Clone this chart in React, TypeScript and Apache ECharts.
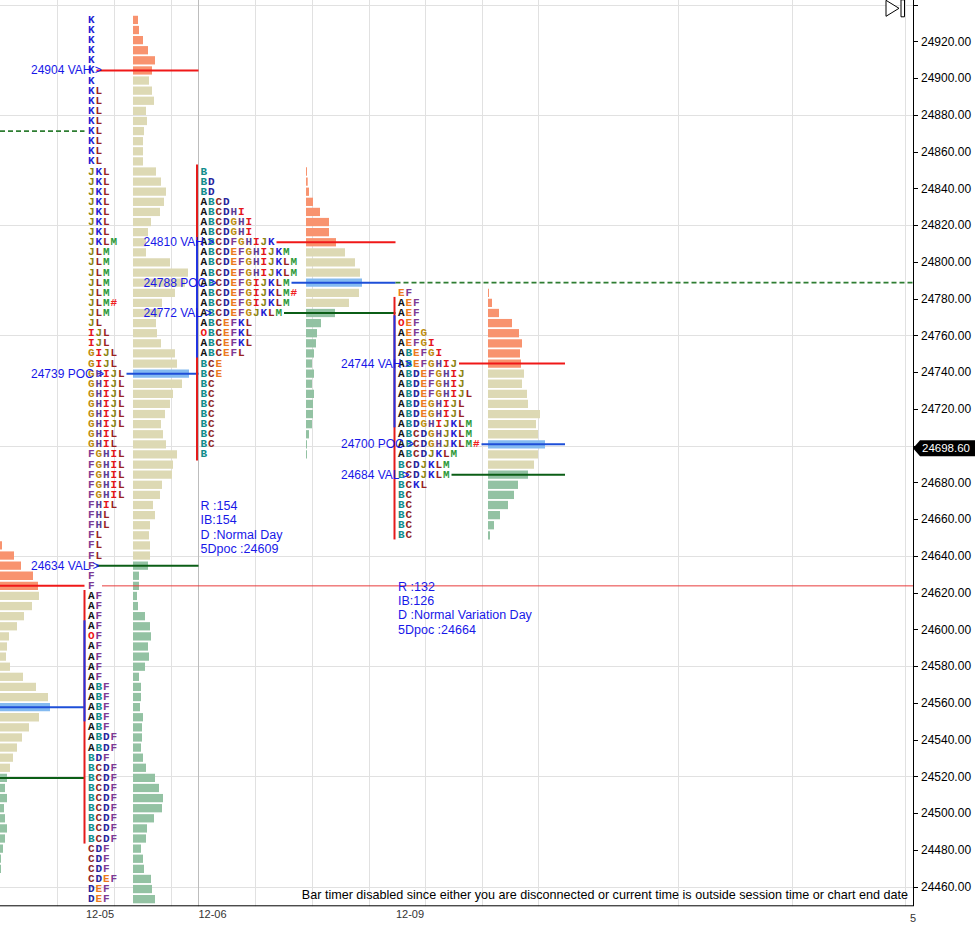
import React, { useEffect, useRef } from 'react';
import * as echarts from 'echarts';

// ================= DATA =================
const ROW = 5.5; // price height of one TPO row
const lastPrice = 24698.6;
const priceLabelMin = 24460;
const priceLabelMax = 24920;
const dateLabels = ['12-05', '12-06', '12-09'];
const cornerLabel = '5';
const footerText =
  'Bar timer disabled since either you are disconnected or current time is outside session time or chart end date';

// 12-04 (only its right edge is visible)
const d1204Top = 24645.75;
const d1204Vol = [2, 14, 21, 33, 38, 39, 32, 24, 17, 9, 7, 6, 10, 23, 36, 48, 50, 39, 29, 22, 17, 13, 10, 7, 5, 7, 4, 5, 7, 5, 3, 1, 1];
const d1204Vah = 24623.75;
const d1204Poc = 24557.75;
const d1204Val = 24519.25;
const olderNakedPoc = 24871.25;

// 12-05
const d1205Top = 24931.75;
const d1205Rows = [
  'K', 'K', 'K', 'K', 'K', 'K', 'K',
  'KL', 'KL', 'KL', 'KL', 'KL', 'KL', 'KL', 'KL',
  'JKL', 'JKL', 'JKL', 'JKL', 'JKL', 'JKL', 'JKL',
  'JKLM', 'JLM', 'JLM', 'JLM', 'JLM', 'JLM', 'JLM#', 'JLM', 'JL',
  'IJL', 'IJL', 'GIJL', 'GIJL',
  'GHIJL', 'GHIJL', 'GHIJL', 'GHIJL', 'GHIJL', 'GHIJL',
  'GHIL', 'GHIL',
  'FGHIL', 'FGHIL', 'FGHIL', 'FGHIL', 'FGHIL', 'FHIL', 'FHL', 'FHL',
  'FL', 'FL', 'FL', 'F', 'F', 'F',
  'AF', 'AF', 'AF', 'AF', 'OF', 'AF', 'AF', 'AF', 'AF',
  'ABF', 'ABF', 'ABF', 'ABF', 'ABF', 'ABDF', 'ABDF', 'BDF',
  'BCDF', 'BCDF', 'BCDF', 'BCDF', 'BCDF', 'BCDF', 'BCDF', 'BCDF',
  'CDF', 'CDF', 'CDF', 'CDEF', 'DEF', 'DEF',
];
const d1205Vol = [
  5, 6, 10, 15, 22, 19,
  16, 19, 21, 13, 14, 11, 10, 10, 10, 23, 28, 33, 31, 27, 18, 15, 13, 13, 37, 55, 52, 42, 29, 27, 23, 24, 28, 42, 44,
  56,
  49, 40, 37, 32, 28, 30, 33, 44, 40, 39, 29, 27, 20, 22, 17, 16, 17, 17,
  15, 6, 6, 4, 5, 12, 17, 18, 15, 16, 12, 6, 8, 8, 7, 10, 9, 9, 8, 10, 13, 22, 26, 30, 29, 21, 14, 13, 8, 10, 11, 18, 19, 22,
];
const d1205Vah = 24904;
const d1205Poc = 24739;
const d1205Val = 24634;
const d1205IB = [24621.5, 24483.5];
const d1205Open = [24605, 24550];

// 12-06
const d1206Top = 24849.25;
const d1206Rows = [
  'B', 'BD', 'BD', 'ABCD', 'ABCDHI', 'ABCDGHI', 'ABCDGHI', 'ABCDFGHIJK', 'ABCDEFGHIJKM',
  'ABCDEFGHIJKLM', 'ABCDEFGHIJKLM', 'ABCDEFGIJKLM', 'ABCDEFGIJKLM#', 'ABCDEFGIJKLM', 'ABCDEFGJKLM',
  'ABCEFKL', 'OBCEFKL', 'ABCEFKL', 'ABCEFL', 'BCE', 'BCE',
  'BC', 'BC', 'BC', 'BC', 'BC', 'BC', 'BC', 'B',
];
const d1206Vol = [1, 1.7, 3, 7, 14, 23, 23, 30, 39, 49, 54, 56, 53, 43, 29, 15, 11, 10, 8, 6, 8, 6, 8, 7, 7, 6, 3, 1, 1];
const d1206Vah = 24810;
const d1206Poc = 24788;
const d1206Val = 24772;
const d1206IB = [24853, 24692];
const d1206Open = [24812, 24748];
const d1206Stats = ['R :154', 'IB:154', 'D :Normal Day', '5Dpoc :24609'];

// 12-09
const d1209Top = 24783.25;
const d1209Rows = [
  'EF', 'AEF', 'AEF', 'OEF', 'AEFG', 'AEFGI', 'ABEFGI', 'ABEFGHIJ', 'ABDEFGHIJ', 'ABDEFGHIJ',
  'ABDEFGHIJL', 'ABDEGHIJL', 'ABDEGHIJL', 'ABDGHIJKLM', 'ABCDGHJKLM', 'ABCDGHJKLM#', 'ABCDJKLM',
  'BCDJKLM', 'BCDJKLM', 'BCKL', 'BC', 'BC', 'BC', 'BC', 'BC',
];
const d1209Vol = [1, 4, 11, 24, 31, 34, 32, 33, 36, 34, 39, 40, 52, 48, 50, 57, 50, 46, 40, 30, 26, 20, 12, 6, 2];
const d1209Vah = 24744;
const d1209Poc = 24700;
const d1209Val = 24684;
const d1209IB = [24781, 24649];
const d1209Open = [24771, 24710];
const d1209Stats = ['R :132', 'IB:126', 'D :Normal Variation Day', '5Dpoc :24664'];

// ================= LAYOUT / STYLE =================
const VIEW_W = 980;
const VIEW_H = 925;
const PLOT_RIGHT = 913;
const PLOT_BOTTOM = 906;
const PRICE_TOP = 24942.7; // price at the top edge of the view
const PX_PER_PT = 1.838;
const AXIS_MIN = 24400;
const AXIS_MAX = 24960;
const OFF = (AXIS_MAX - PRICE_TOP) * PX_PER_PT; // chart canvas starts OFF px above the view
const CHART_H = (AXIS_MAX - AXIS_MIN) * PX_PER_PT;
const LETTER_W = 7.5;
const VGRID = [57, 114, 171, 255, 312, 369, 425, 482, 538, 678, 792, 905];
const SESSION_DIVIDER = [198];

const HIST = { up: '#F8936F', va: '#DDD9B4', poc: '#84BAF0', dn: '#93C2A3' };
const LINE = { vah: '#F01818', poc: '#1E4FD8', val: '#0B5E16', naked: '#2E7D32', ib: '#E41B1B', open: '#2233E0' };
const TEXT_BLUE = '#1818E8';
const LETTER_FONT = 'bold 11px "Liberation Mono", "DejaVu Sans Mono", monospace';
const LABEL_FONT = '12px "Liberation Sans", Arial, sans-serif';
const STAT_FONT = '12.5px "Liberation Sans", Arial, sans-serif';
const LETTER_COLORS: Record<string, string> = {
  A: '#111111', B: '#118C8C', C: '#8E1F1F', D: '#25259C', E: '#EC7A1E', F: '#7E3A94', G: '#BC8C0E',
  H: '#5B3C95', I: '#E4161B', J: '#8C8414', K: '#1F1FD4', L: '#992222', M: '#2E9A3A', O: '#EE1111', '#': '#F02020',
};

type Profile = {
  top: number; rows?: string[]; vol: number[]; vah: number; poc: number; val: number;
  letterX?: number; histX: number; end: number; labels: boolean;
  ib?: number[]; open?: number[]; stats?: string[];
};

const profiles: Profile[] = [
  { top: d1204Top, vol: d1204Vol, vah: d1204Vah, poc: d1204Poc, val: d1204Val, histX: 0, end: 84.5, labels: false },
  { top: d1205Top, rows: d1205Rows, vol: d1205Vol, vah: d1205Vah, poc: d1205Poc, val: d1205Val, letterX: 88, histX: 133, end: 198.5, labels: true, ib: d1205IB, open: d1205Open },
  { top: d1206Top, rows: d1206Rows, vol: d1206Vol, vah: d1206Vah, poc: d1206Poc, val: d1206Val, letterX: 200.5, histX: 306, end: 395.5, labels: true, ib: d1206IB, open: d1206Open, stats: d1206Stats },
  { top: d1209Top, rows: d1209Rows, vol: d1209Vol, vah: d1209Vah, poc: d1209Poc, val: d1209Val, letterX: 398, histX: 488, end: 565, labels: true, ib: d1209IB, open: d1209Open, stats: d1209Stats },
];

const idxOf = (p: Profile, price: number) => Math.round((p.top - price) / ROW);
const rowPrice = (p: Profile, i: number) => p.top - i * ROW;

function histSeries(p: Profile) {
  const vahI = idxOf(p, p.vah), pocI = idxOf(p, p.poc), valI = idxOf(p, p.val);
  return {
    type: 'custom', silent: true, z: 3, clip: false,
    data: p.vol.map((v, i) => [p.histX, rowPrice(p, i), v, i]),
    encode: { x: 0, y: 1 },
    renderItem: (_: any, api: any) => {
      const x0 = api.value(0), pr = api.value(1), v = api.value(2), i = api.value(3);
      const a = api.coord([x0, pr]);
      const b = api.coord([x0 + v, pr]);
      const h = api.size([0, ROW])[1] * 0.82;
      const fill = i === pocI ? HIST.poc : i <= vahI ? HIST.up : i >= valI ? HIST.dn : HIST.va;
      return { type: 'rect', shape: { x: a[0], y: a[1] - h / 2, width: Math.max(b[0] - a[0], 1), height: h }, style: { fill } };
    },
  };
}

function letterSeries(p: Profile) {
  const rows = p.rows as string[];
  return {
    type: 'custom', silent: true, z: 4, clip: false,
    data: rows.map((_, i) => [p.letterX, rowPrice(p, i), i]),
    encode: { x: 0, y: 1 },
    renderItem: (_: any, api: any) => {
      const c = api.coord([api.value(0), api.value(1)]);
      const s = rows[api.value(2)];
      return {
        type: 'group',
        children: s.split('').map((ch, j) => ({
          type: 'text', x: c[0] + j * LETTER_W, y: c[1],
          style: { text: ch, fill: LETTER_COLORS[ch] || '#000', font: LETTER_FONT, align: 'left', verticalAlign: 'middle' },
        })),
      };
    },
  };
}

// kinds: 0 vah, 1 poc, 2 val, 3 naked dashed, 4 thin red
const lineStyles = [
  { stroke: LINE.vah, lineWidth: 2 },
  { stroke: LINE.poc, lineWidth: 2 },
  { stroke: LINE.val, lineWidth: 2 },
  { stroke: LINE.naked, lineWidth: 1.6, lineDash: [5, 3] },
  { stroke: '#E83A3A', lineWidth: 1 },
];

function levelItems(p: Profile) {
  const out: number[][] = [];
  [p.vah, p.poc, p.val].forEach((price, kind) => {
    const i = idxOf(p, price);
    const x1 = p.rows ? (p.letterX as number) + p.rows[i].length * LETTER_W + 1 : p.histX;
    out.push([x1, p.end, rowPrice(p, i), kind]);
  });
  return out;
}

function buildOption() {
  const series: any[] = [];

  // vertical grid lines
  series.push({
    type: 'custom', silent: true, z: 1, clip: false,
    data: VGRID.map((x) => [x, AXIS_MIN, 0]).concat(SESSION_DIVIDER.map((x) => [x, AXIS_MIN, 1])),
    encode: { x: 0, y: 1 },
    renderItem: (_: any, api: any) => {
      const a = api.coord([api.value(0), AXIS_MAX]);
      const b = api.coord([api.value(0), AXIS_MIN]);
      return {
        type: 'line', shape: { x1: Math.round(a[0]) + 0.5, y1: a[1], x2: Math.round(a[0]) + 0.5, y2: b[1] },
        style: { stroke: api.value(2) ? '#BDBDBD' : '#E1E1E1', lineWidth: 1 },
      };
    },
  });

  profiles.forEach((p) => {
    series.push(histSeries(p));
    if (p.rows) series.push(letterSeries(p));
  });

  // value-area / POC lines
  const lines: number[][] = [];
  profiles.forEach((p) => lines.push(...levelItems(p)));
  const p1204 = profiles[0], p1205 = profiles[1], p1206 = profiles[2];
  lines.push([0, p1204.end, olderNakedPoc, 3]);
  lines.push([(p1205.letterX as number) + 14, PLOT_RIGHT, rowPrice(p1204, idxOf(p1204, p1204.vah)), 4]);
  lines.push([p1206.end, PLOT_RIGHT, rowPrice(p1206, idxOf(p1206, p1206.poc)), 3]);
  series.push({
    type: 'custom', silent: true, z: 5, clip: false,
    data: lines,
    encode: { x: [0, 1], y: 2 },
    renderItem: (_: any, api: any) => {
      const a = api.coord([api.value(0), api.value(2)]);
      const b = api.coord([api.value(1), api.value(2)]);
      return { type: 'line', shape: { x1: a[0], y1: a[1], x2: b[0], y2: b[1] }, style: lineStyles[api.value(3)] };
    },
  });

  // IB (red) and opening (blue) vertical range bars
  const vbars: number[][] = [];
  profiles.forEach((p) => {
    if (p.ib && p.open) {
      vbars.push([(p.letterX as number) - 3.5, p.ib[0], p.ib[1], 0]);
      vbars.push([(p.letterX as number) - 3.5, p.open[0], p.open[1], 1]);
    }
  });
  series.push({
    type: 'custom', silent: true, z: 6, clip: false,
    data: vbars,
    encode: { x: 0, y: [1, 2] },
    renderItem: (_: any, api: any) => {
      const a = api.coord([api.value(0), api.value(1)]);
      const b = api.coord([api.value(0), api.value(2)]);
      return {
        type: 'line', shape: { x1: a[0], y1: a[1], x2: b[0], y2: b[1] },
        style: { stroke: api.value(3) ? LINE.open : LINE.ib, lineWidth: 2 },
      };
    },
  });

  // level labels
  const labelItems: any[] = [];
  profiles.forEach((p) => {
    if (!p.labels) return;
    [
      [p.vah, 'VAH'],
      [p.poc, 'POC'],
      [p.val, 'VAL'],
    ].forEach(([v, name]) => {
      labelItems.push({ value: [(p.letterX as number) - 57, rowPrice(p, idxOf(p, v as number))], text: `${v} ${name} >` });
    });
  });
  series.push({
    type: 'custom', silent: true, z: 7, clip: false,
    data: labelItems,
    encode: { x: 0, y: 1 },
    renderItem: (params: any, api: any) => {
      const c = api.coord([api.value(0), api.value(1)]);
      return {
        type: 'text', x: c[0], y: c[1],
        style: { text: labelItems[params.dataIndex].text, fill: TEXT_BLUE, font: LABEL_FONT, align: 'left', verticalAlign: 'middle' },
      };
    },
  });

  // session stats
  const statItems: any[] = [];
  profiles.forEach((p) => {
    if (!p.stats || !p.rows) return;
    const low = rowPrice(p, p.rows.length - 1);
    p.stats.forEach((t, j) => statItems.push({ value: [p.letterX, low, j], text: t }));
  });
  series.push({
    type: 'custom', silent: true, z: 7, clip: false,
    data: statItems,
    encode: { x: 0, y: 1 },
    renderItem: (params: any, api: any) => {
      const c = api.coord([api.value(0), api.value(1)]);
      return {
        type: 'text', x: c[0], y: c[1] + 51.5 + api.value(2) * 14.3,
        style: { text: statItems[params.dataIndex].text, fill: TEXT_BLUE, font: STAT_FONT, align: 'left', verticalAlign: 'middle' },
      };
    },
  });

  // last price tag
  series.push({
    type: 'custom', silent: true, z: 20, clip: false,
    data: [[PLOT_RIGHT, lastPrice]],
    encode: { x: 0, y: 1 },
    renderItem: (_: any, api: any) => {
      const c = api.coord([api.value(0), api.value(1)]);
      const x = c[0], y = c[1];
      return {
        type: 'group',
        children: [
          { type: 'polygon', shape: { points: [[x, y], [x + 7, y - 8], [x + 62, y - 8], [x + 62, y + 8], [x + 7, y + 8]] }, style: { fill: '#000' } },
          { type: 'text', x: x + 9, y, style: { text: api.value(1).toFixed(2), fill: '#fff', font: '11.5px "Liberation Sans", Arial', align: 'left', verticalAlign: 'middle' } },
        ],
      };
    },
  });

  const dateX = profiles.slice(1).map((p) => (p.letterX as number) + 12);
  const gy = (y: number) => y + OFF;

  return {
    animation: false,
    backgroundColor: '#ffffff',
    grid: { left: 0, right: VIEW_W - PLOT_RIGHT, top: 0, bottom: 0, containLabel: false, outerBoundsMode: 'none' },
    xAxis: { type: 'value', min: 0, max: PLOT_RIGHT, show: false },
    yAxis: [
      {
        type: 'value', position: 'right', min: AXIS_MIN, max: AXIS_MAX, interval: 20,
        axisLine: { show: true, onZero: false, lineStyle: { color: '#000', width: 1 } },
        axisTick: { show: true, inside: false, length: 5, lineStyle: { color: '#000' } },
        axisLabel: {
          margin: 8, color: '#000', fontSize: 12, fontFamily: 'Liberation Sans',
          formatter: (v: number) => (v >= priceLabelMin && v <= priceLabelMax ? v.toFixed(2) : ''),
        },
        splitLine: { show: false },
      },
      {
        type: 'value', position: 'left', min: AXIS_MIN, max: AXIS_MAX, interval: 60,
        axisLine: { show: false, onZero: false }, axisTick: { show: false }, axisLabel: { show: false },
        splitLine: { show: true, lineStyle: { color: '#E1E1E1', width: 1 } },
      },
    ],
    series,
    graphic: [
      { type: 'rect', z: 100, shape: { x: 0, y: gy(PLOT_BOTTOM + 0.5), width: VIEW_W, height: CHART_H }, style: { fill: '#fff' } },
      { type: 'line', z: 101, shape: { x1: 0, y1: gy(PLOT_BOTTOM), x2: PLOT_RIGHT, y2: gy(PLOT_BOTTOM) }, style: { stroke: '#000', lineWidth: 1 } },
      { type: 'line', z: 101, shape: { x1: PLOT_RIGHT + 0.5, y1: gy(PLOT_BOTTOM - 1), x2: PLOT_RIGHT + 0.5, y2: gy(PLOT_BOTTOM) }, style: { stroke: '#000', lineWidth: 1 } },
      ...dateLabels.map((t, i) => ({
        type: 'text', z: 101, x: dateX[i], y: gy(914),
        style: { text: t, fill: '#333', font: '11px "Liberation Sans", Arial', align: 'center', verticalAlign: 'middle' },
      })),
      { type: 'text', z: 101, x: 913, y: gy(918), style: { text: cornerLabel, fill: '#333', font: '11px "Liberation Sans", Arial', align: 'center', verticalAlign: 'middle' } },
      { type: 'text', z: 101, x: 908, y: gy(895), style: { text: footerText, fill: '#000', font: '12.6px "Liberation Sans", Arial', align: 'right', verticalAlign: 'middle' } },
      { type: 'polygon', z: 101, shape: { points: [[886, gy(0.5)], [899, gy(8.5)], [886, gy(16.5)]] }, style: { fill: '#fff', stroke: '#000', lineWidth: 1 } },
      { type: 'rect', z: 101, shape: { x: 901, y: gy(0), width: 3.5, height: 17 }, style: { fill: '#fff', stroke: '#000', lineWidth: 1 } },
    ],
  };
}

export default function App() {
  const ref = useRef<HTMLDivElement>(null);
  useEffect(() => {
    const chart = echarts.init(ref.current as HTMLDivElement, undefined, { renderer: 'svg' });
    chart.setOption(buildOption() as any);
    return () => chart.dispose();
  }, []);
  return (
    <div style={{ position: 'fixed', left: 0, top: 0, width: VIEW_W, height: VIEW_H, overflow: 'hidden', background: '#fff' }}>
      <div
        ref={ref}
        style={{ position: 'absolute', left: 0, top: -OFF, width: VIEW_W, height: CHART_H }}
      />
    </div>
  );
}
